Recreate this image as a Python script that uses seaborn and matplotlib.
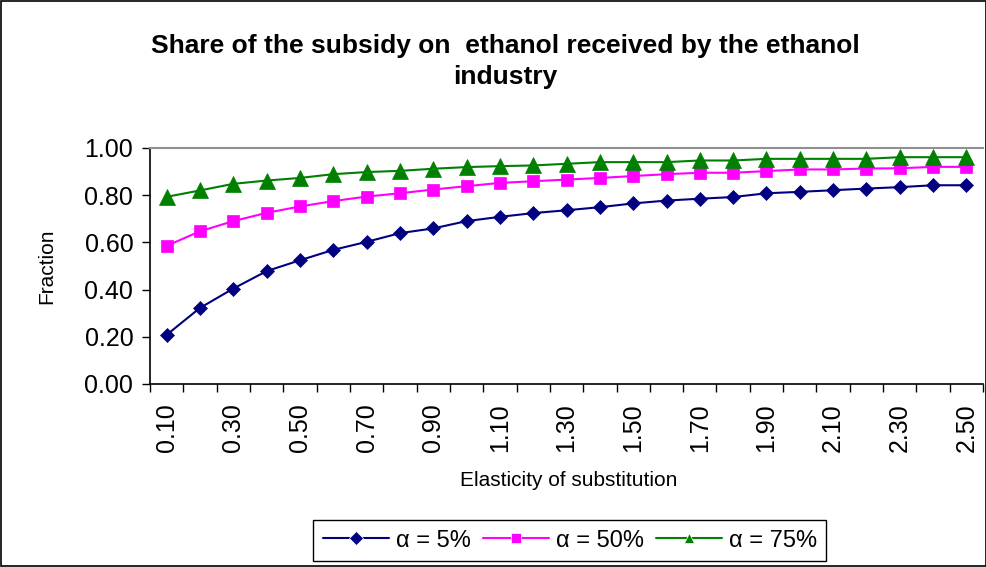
import numpy as np
import pandas as pd
import matplotlib
matplotlib.use("Agg")
import matplotlib.pyplot as plt
from matplotlib.patches import Rectangle
import seaborn as sns

### values
elasticity = [0.1, 0.2, 0.3, 0.4, 0.5, 0.6, 0.7, 0.8, 0.9, 1.0, 1.1, 1.2, 1.3,
              1.4, 1.5, 1.6, 1.7, 1.8, 1.9, 2.0, 2.1, 2.2, 2.3, 2.4, 2.5]

alpha_5 = [0.208, 0.322, 0.404, 0.478, 0.524, 0.568, 0.602, 0.639, 0.659, 0.690,
           0.708, 0.724, 0.736, 0.749, 0.765, 0.777, 0.785, 0.792, 0.808, 0.814,
           0.821, 0.828, 0.834, 0.842, 0.842]
alpha_50 = [0.585, 0.647, 0.690, 0.725, 0.752, 0.775, 0.794, 0.808, 0.824, 0.838,
            0.852, 0.859, 0.866, 0.873, 0.881, 0.889, 0.895, 0.895, 0.902, 0.909,
            0.909, 0.913, 0.914, 0.920, 0.920]
alpha_75 = [0.793, 0.820, 0.848, 0.862, 0.873, 0.889, 0.898, 0.903, 0.912, 0.919,
            0.923, 0.926, 0.933, 0.940, 0.940, 0.940, 0.947, 0.947, 0.954, 0.954,
            0.954, 0.954, 0.961, 0.961, 0.961]

series_names = ["α = 5%", "α = 50%", "α = 75%"]
colors = ["#000080", "#FF00FF", "#008000"]
markers = ["D", "s", "^"]

df = pd.DataFrame({
    "elasticity": elasticity * 3,
    "fraction": alpha_5 + alpha_50 + alpha_75,
    "series": np.repeat(series_names, len(elasticity)),
})

sns.set_style("white")
plt.rcParams["font.family"] = ["Liberation Sans", "DejaVu Sans"]
plt.rcParams["text.color"] = "black"
plt.rcParams["axes.labelcolor"] = "black"
plt.rcParams["xtick.color"] = "black"
plt.rcParams["ytick.color"] = "black"

fig = plt.figure(figsize=(9.87, 5.67), dpi=100)
ax = fig.add_axes([0.152, 0.323, 0.844, 0.416])

sns.lineplot(data=df, x="elasticity", y="fraction", hue="series", style="series",
             palette=dict(zip(series_names, colors)),
             markers=dict(zip(series_names, markers)),
             dashes=False, markersize=8, linewidth=1.5,
             markeredgewidth=0.5, ax=ax)

# per-marker sizes, closer to the excel look
sizes = {"D": 7.5, "s": 8, "^": 11}
for line, m in zip(ax.lines, markers):
    line.set_markeredgecolor(line.get_color())
    line.set_markersize(sizes[m])

ax.set_xlim(0.05, 2.55)
ax.set_ylim(0, 1.0)

### category style x axis: labels every other point, ticks between points
ax.set_xticks(elasticity[::2])
ax.set_xticklabels([f"{v:.2f}" for v in elasticity[::2]], rotation=90, fontsize=18)
ax.set_xticks(np.arange(0.05, 2.56, 0.1), minor=True)
ax.tick_params(axis="x", which="major", length=0, pad=14)
ax.tick_params(axis="x", which="minor", length=6, width=1, direction="out",
               color="black", bottom=True)

ax.set_yticks([0, 0.2, 0.4, 0.6, 0.8, 1.0])
ax.set_yticklabels([f"{v:.2f}" for v in [0, 0.2, 0.4, 0.6, 0.8, 1.0]], fontsize=18)
ax.tick_params(axis="y", length=6, width=1, direction="out", left=True, pad=6)

for side in ["left", "bottom"]:
    ax.spines[side].set_color("black")
    ax.spines[side].set_linewidth(1.2)
ax.spines["top"].set_color("#909090")
ax.spines["top"].set_linewidth(1.5)
ax.spines["right"].set_visible(False)

ax.set_xlabel("Elasticity of substitution", fontsize=15)
ax.xaxis.set_label_coords(0.502, -0.37)
ax.set_ylabel("Fraction", fontsize=15)
ax.yaxis.set_label_coords(-0.112, 0.5)

fig.text(0.512, 0.891, "Share of the subsidy on  ethanol received by the ethanol\nindustry",
         ha="center", va="center", fontsize=19, fontweight="bold", linespacing=1.35)

handles, labels = ax.get_legend_handles_labels()
for h in handles:
    h.set_markersize(7)
ax.legend(handles, labels, loc="center", bbox_to_anchor=(0.504, -0.665), ncol=3,
          fontsize=17, frameon=True, fancybox=False, framealpha=1,
          edgecolor="black", handlelength=2.8, columnspacing=0.5,
          handletextpad=0.3, borderpad=0.4)
ax.get_legend().get_frame().set_linewidth(1.0)

### outer border of the chart area
fig.patches.append(Rectangle((0.001, 0.001), 0.998, 0.997, transform=fig.transFigure,
                             fill=False, edgecolor="black", linewidth=1.2))

fig.savefig("out.png", dpi=100)
